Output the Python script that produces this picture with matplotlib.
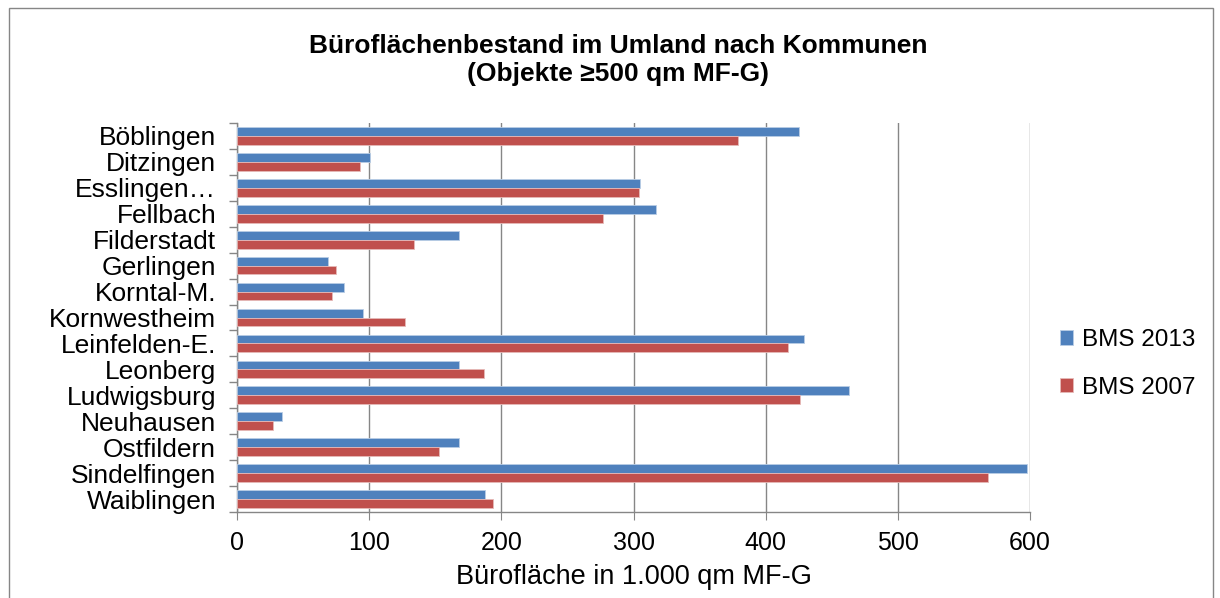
import numpy as np
import matplotlib.pyplot as plt
from matplotlib.patches import Rectangle

plt.rcParams['font.family'] = ['Liberation Sans', 'DejaVu Sans']

kommunen = ['Böblingen', 'Ditzingen', 'Esslingen…', 'Fellbach', 'Filderstadt',
            'Gerlingen', 'Korntal-M.', 'Kornwestheim', 'Leinfelden-E.', 'Leonberg',
            'Ludwigsburg', 'Neuhausen', 'Ostfildern', 'Sindelfingen', 'Waiblingen']
bms_2013 = [425, 101, 305, 317, 168, 69, 81, 95, 429, 168, 463, 34, 168, 598, 188]
bms_2007 = [379, 93, 304, 277, 134, 75, 72, 127, 417, 187, 426, 27, 153, 568, 194]

W, H = 1220, 598
fig = plt.figure(figsize=(W / 100, H / 100), dpi=100)
ax = fig.add_axes([237 / W, 1 - 512 / H, (1030 - 237) / W, (512 - 123) / H])

y = np.arange(len(kommunen))
h = 0.34
ax.barh(y - h / 2, bms_2013, height=h, color='#4F81BD', edgecolor='#B9CDE5',
        linewidth=0.6, label='BMS 2013', zorder=3)
ax.barh(y + h / 2, bms_2007, height=h, color='#C0504D', edgecolor='#E6B9B8',
        linewidth=0.6, label='BMS 2007', zorder=3)

ax.set_ylim(len(kommunen) - 0.5, -0.5)
ax.set_xlim(0, 600)
ax.set_xticks(np.arange(0, 601, 100))
ax.set_yticks(y)
ax.set_yticklabels(kommunen)
ax.set_yticks(np.arange(-0.5, len(kommunen)), minor=True)
ax.tick_params(axis='y', which='major', length=0, labelsize=19, pad=15)
ax.tick_params(axis='y', which='minor', length=6, color='#868686', width=1)
ax.tick_params(axis='x', length=6, color='#868686', labelsize=18, pad=8)
ax.grid(axis='x', color='#868686', linewidth=1, zorder=0)

for s in ['top', 'right']:
    ax.spines[s].set_visible(False)
for s in ['left', 'bottom']:
    ax.spines[s].set_color('#868686')
    ax.spines[s].set_linewidth(1)

ax.set_xlabel('Bürofläche in 1.000 qm MF-G', fontsize=19.5, labelpad=6)

fig.text(618 / W, 1 - 60 / H, 'Büroflächenbestand im Umland nach Kommunen\n(Objekte ≥500 qm MF-G)',
         ha='center', va='center', fontsize=19, fontweight='bold', linespacing=1.25)

ax.legend(loc='center left', bbox_to_anchor=(1038 / W, 1 - 364 / H),
          bbox_transform=fig.transFigure, frameon=False, fontsize=17.5,
          handlelength=0.55, handleheight=0.55, handletextpad=0.35, labelspacing=1.05)

fig.patches.append(Rectangle((9 / W, -0.05), (1213 - 9) / W, 1.05 - 8 / H,
                             transform=fig.transFigure, fill=False,
                             edgecolor='#868686', linewidth=1))

fig.savefig('out.png', dpi=100)
